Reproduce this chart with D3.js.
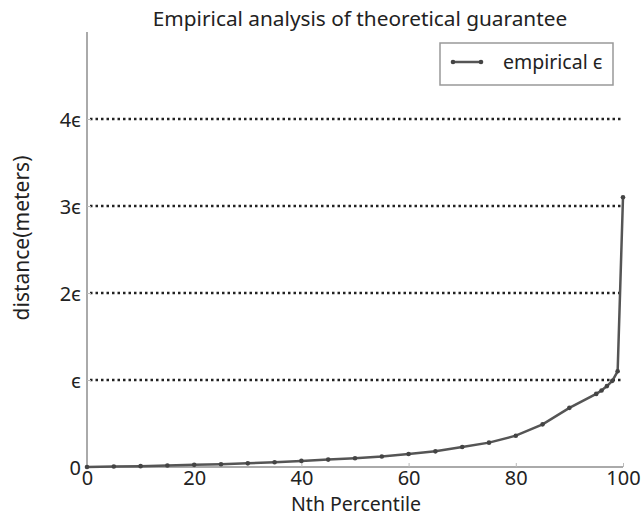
<!DOCTYPE html>
<html>
<head>
<meta charset="utf-8">
<script src="https://cdn.jsdelivr.net/npm/d3@7"></script>
<style>
  body { margin: 0; background: #fff; }
  text { font-family: "Noto Sans", "DejaVu Sans", sans-serif; fill: #222; }
</style>
</head>
<body>
<div id="chart"></div>
<script>
(function() {
    const width = 644;
    const height = 517;

    // Percentile positions and distance in units of epsilon
    const percentiles = [0, 5, 10, 15, 20, 25, 30, 35, 40, 45, 50, 55, 60, 65, 70, 75, 80, 85, 90, 95, 96, 97, 98, 99, 100];
    const distances = [0, 0.005, 0.01, 0.017, 0.025, 0.032, 0.042, 0.055, 0.07, 0.085, 0.1, 0.12, 0.15, 0.18, 0.23, 0.28, 0.36, 0.49, 0.68, 0.84, 0.88, 0.93, 0.99, 1.1, 3.1];

    const xTicks = [0, 20, 40, 60, 80, 100];
    const yTicks = [0, 1, 2, 3, 4];
    const yTickLabels = ["0", "\u03f5", "2\u03f5", "3\u03f5", "4\u03f5"];
    const gridLevels = [1, 2, 3, 4];

    const margin = { top: 32, right: 21, bottom: 50, left: 87 };
    const font = "'Noto Sans', 'DejaVu Sans', sans-serif";

    const svg = d3.select("#chart")
        .append("svg")
        .attr("width", width)
        .attr("height", height);

    const x = d3.scaleLinear()
        .domain([0, 100])
        .range([margin.left, width - margin.right]);

    const y = d3.scaleLinear()
        .domain([0, 5])
        .range([height - margin.bottom, margin.top]);

    // dotted horizontal reference lines
    svg.append("g")
        .selectAll("line")
        .data(gridLevels)
        .enter().append("line")
        .attr("x1", x(0) + 3)
        .attr("x2", x(100))
        .attr("y1", d => y(d))
        .attr("y2", d => y(d))
        .attr("stroke", "#222")
        .attr("stroke-width", 2.5)
        .attr("stroke-dasharray", "2.5,3");

    // axes
    const xAxis = svg.append("g")
        .attr("transform", `translate(0,${y(0)})`)
        .call(d3.axisBottom(x).tickValues(xTicks).tickSize(-4).tickPadding(4));

    const yAxis = svg.append("g")
        .attr("transform", `translate(${x(0)},0)`)
        .call(d3.axisLeft(y).tickValues(yTicks).tickFormat((d, i) => yTickLabels[i]).tickSize(-4).tickPadding(6));

    [xAxis, yAxis].forEach(g => {
        g.selectAll("path.domain").attr("stroke", "#aaa").attr("stroke-width", 2);
        g.selectAll(".tick line").attr("stroke", "#bbb");
        g.selectAll(".tick text")
            .style("font-family", font)
            .style("font-size", "20px")
            .attr("fill", "#222");
    });
    // only left and bottom spines
    yAxis.select("path.domain").attr("d", `M0,${y(5)}V${y(0)}`);
    xAxis.select("path.domain").attr("d", `M${x(0)},0H${x(100)}`);
    yAxis.selectAll(".tick text").attr("dy", "0.35em");
    xAxis.selectAll(".tick text").attr("dy", "0.68em");

    // the data line
    const line = d3.line()
        .x((d, i) => x(percentiles[i]))
        .y(d => y(d));

    svg.append("path")
        .datum(distances)
        .attr("d", line)
        .attr("fill", "none")
        .attr("stroke", "#555")
        .attr("stroke-width", 2.5);

    svg.append("g")
        .selectAll("circle")
        .data(distances)
        .enter().append("circle")
        .attr("cx", (d, i) => x(percentiles[i]))
        .attr("cy", d => y(d))
        .attr("r", 2.3)
        .attr("fill", "#444");

    // title and labels
    svg.append("text")
        .attr("x", (x(0) + x(100)) / 2 + 5)
        .attr("y", 26)
        .attr("text-anchor", "middle")
        .style("font-size", "20.8px")
        .text("Empirical analysis of theoretical guarantee");

    svg.append("text")
        .attr("x", (x(0) + x(100)) / 2 + 1)
        .attr("y", 511)
        .attr("text-anchor", "middle")
        .style("font-size", "19.5px")
        .text("Nth Percentile");

    svg.append("text")
        .attr("transform", "translate(29,238) rotate(-90)")
        .attr("text-anchor", "middle")
        .style("font-size", "21px")
        .text("distance(meters)");

    // legend
    const legend = svg.append("g").attr("transform", "translate(440,43)");
    legend.append("rect")
        .attr("width", 173)
        .attr("height", 42)
        .attr("fill", "#fff")
        .attr("stroke", "#999")
        .attr("stroke-width", 1.5);
    legend.append("line")
        .attr("x1", 13).attr("x2", 41)
        .attr("y1", 19).attr("y2", 19)
        .attr("stroke", "#555")
        .attr("stroke-width", 2.5);
    legend.selectAll("circle")
        .data([13, 41])
        .enter().append("circle")
        .attr("cx", d => d)
        .attr("cy", 19)
        .attr("r", 2.3)
        .attr("fill", "#444");
    legend.append("text")
        .attr("x", 63)
        .attr("y", 26)
        .style("font-size", "19.5px")
        .text("empirical \u03f5");
})();
</script>
</body>
</html>
